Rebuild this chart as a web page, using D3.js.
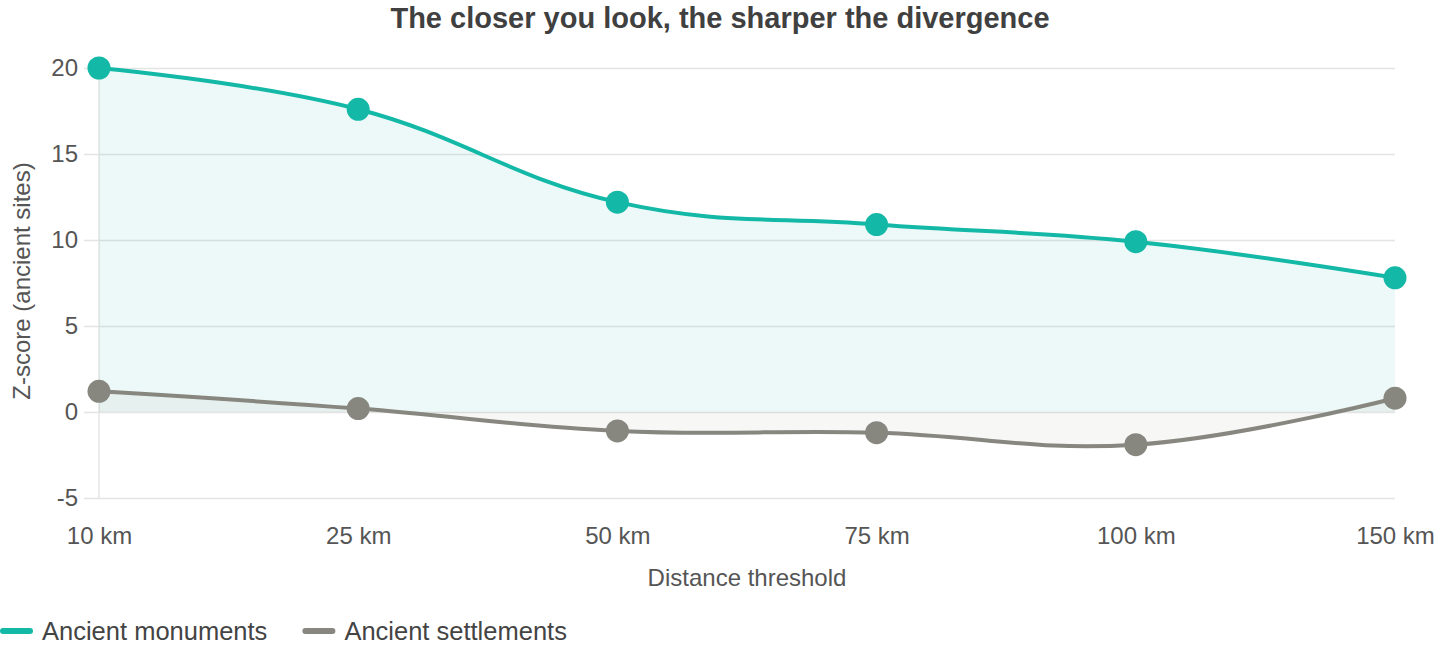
<!DOCTYPE html>
<html>
<head>
<meta charset="utf-8">
<script src="https://cdn.jsdelivr.net/npm/d3@7"></script>
<style>
  body { margin: 0; background: #fff; }
  svg { display: block; font-family: "Liberation Sans", Arial, sans-serif; }
</style>
</head>
<body>
<script>
// chart data
var categories = ["10 km", "25 km", "50 km", "75 km", "100 km", "150 km"];
var monuments = [20.0, 17.6, 12.2, 10.9, 9.9, 7.8];
var settlements = [1.2, 0.2, -1.1, -1.2, -1.9, 0.8];
var yTicks = [-5, 0, 5, 10, 15, 20];
var seriesNames = ["Ancient monuments", "Ancient settlements"];
var seriesColors = ["#14b8a6", "#878780"];
var fillColors = ["rgba(20,184,166,0.08)", "rgba(136,135,128,0.07)"];

var width = 1440, height = 646;
var margin = {top: 68, right: 45, bottom: 148, left: 99};
var innerW = width - margin.left - margin.right,
    innerH = height - margin.top - margin.bottom;

var svg = d3.select("body").append("svg")
    .attr("width", width)
    .attr("height", height);

var x = d3.scalePoint()
    .domain(categories)
    .range([0, innerW]);

var y = d3.scaleLinear()
    .domain([-5, 20])
    .range([innerH, 0]);

var g = svg.append("g")
    .attr("transform", "translate(" + margin.left + "," + margin.top + ")");

// gridlines + y ticks
var yAxis = g.append("g")
    .call(d3.axisLeft(y).tickValues(yTicks).tickFormat(function(d) { return String(d); })
        .tickSize(15).tickSizeOuter(0));
yAxis.select(".domain").remove();
yAxis.selectAll(".tick line")
    .attr("x2", innerW)
    .attr("x1", -15)
    .attr("stroke", "#e4e4e2")
    .attr("stroke-width", 1.5);
yAxis.selectAll(".tick text")
    .attr("x", -21)
    .attr("fill", "#555")
    .style("font-size", "24px");

// left axis line
g.append("line")
    .attr("x1", 0).attr("x2", 0)
    .attr("y1", 0).attr("y2", innerH)
    .attr("stroke", "#e4e4e2")
    .attr("stroke-width", 1.5);

// x axis labels
var xAxis = g.append("g")
    .attr("transform", "translate(0," + innerH + ")")
    .call(d3.axisBottom(x).tickSize(0).tickPadding(29));
xAxis.select(".domain").remove();
xAxis.selectAll(".tick text")
    .attr("fill", "#555")
    .style("font-size", "24px");

var curve = d3.curveCardinal.tension(-0.2);

var allSeries = [monuments, settlements];

// fills to zero
allSeries.forEach(function(vals, i) {
    var area = d3.area()
        .x(function(d, j) { return x(categories[j]); })
        .y0(y(0))
        .y1(function(d) { return y(d); })
        .curve(curve);
    g.append("path")
        .datum(vals)
        .attr("fill", fillColors[i])
        .attr("d", area);
});

// lines and points
allSeries.forEach(function(vals, i) {
    var line = d3.line()
        .x(function(d, j) { return x(categories[j]); })
        .y(function(d) { return y(d); })
        .curve(curve);
    g.append("path")
        .datum(vals)
        .attr("fill", "none")
        .attr("stroke", seriesColors[i])
        .attr("stroke-width", 4)
        .attr("d", line);
    g.selectAll(".pt" + i)
        .data(vals)
        .enter()
        .append("circle")
        .attr("class", "pt" + i)
        .attr("cx", function(d, j) { return x(categories[j]); })
        .attr("cy", function(d) { return y(d); })
        .attr("r", 11.5)
        .attr("fill", seriesColors[i]);
});

// title
svg.append("text")
    .attr("x", margin.left + innerW / 2 - 27)
    .attr("y", 28)
    .attr("text-anchor", "middle")
    .attr("fill", "#404040")
    .style("font-size", "29px")
    .style("font-weight", "bold")
    .text("The closer you look, the sharper the divergence");

// axis titles
svg.append("text")
    .attr("x", margin.left + innerW / 2)
    .attr("y", 586)
    .attr("text-anchor", "middle")
    .attr("fill", "#555")
    .style("font-size", "24px")
    .text("Distance threshold");

svg.append("text")
    .attr("transform", "translate(30,281) rotate(-90)")
    .attr("text-anchor", "middle")
    .attr("fill", "#555")
    .style("font-size", "24px")
    .text("Z-score (ancient sites)");

// legend
var legend = svg.append("g").attr("transform", "translate(0,631)");
var lx = 3;
seriesNames.forEach(function(name, i) {
    legend.append("line")
        .attr("x1", lx).attr("x2", lx + 27)
        .attr("y1", 0).attr("y2", 0)
        .attr("stroke", seriesColors[i])
        .attr("stroke-width", 6)
        .attr("stroke-linecap", "round");
    var t = legend.append("text")
        .attr("x", lx + 39)
        .attr("y", 8.5)
        .attr("fill", "#444")
        .style("font-size", "25.5px")
        .text(name);
    lx += 39 + t.node().getComputedTextLength() + 38;
});
</script>
</body>
</html>
